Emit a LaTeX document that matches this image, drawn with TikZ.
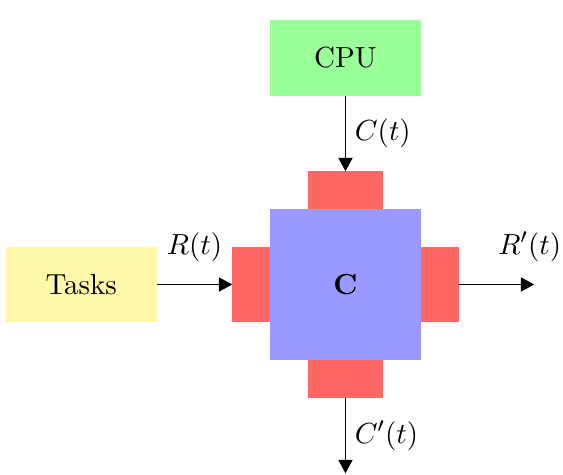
\documentclass[tikz,border=0pt]{standalone}
\usetikzlibrary{arrows.meta,calc}
\definecolor{cpugreen}{RGB}{153,255,153}
\definecolor{portred}{RGB}{255,102,102}
\definecolor{coreblue}{RGB}{153,153,255}
\definecolor{taskyellow}{RGB}{255,247,170}
\begin{document}
\begin{tikzpicture}[
  font=\fontsize{10.95}{13.6}\selectfont,
  block/.style={minimum width=2cm, minimum height=1cm, inner sep=0pt, outer sep=0pt},
  hport/.style={fill=portred, minimum width=1cm, minimum height=0.5cm, inner sep=0pt, outer sep=0pt},
  vport/.style={fill=portred, minimum width=0.5cm, minimum height=1cm, inner sep=0pt, outer sep=0pt},
  flow/.style={-{Triangle[length=5pt,width=5.3pt]}, line width=0.4pt}
]
\useasboundingbox (-4.576,-2.523) rectangle (2.881,3.768);

% central component with its four ports
\node[fill=coreblue, minimum width=2cm, minimum height=2cm, inner sep=0pt, outer sep=0pt] (c) at (0,0) {\textbf{C}};
\node[hport, anchor=south] (pt) at (c.north) {};
\node[hport, anchor=north] (pb) at (c.south) {};
\node[vport, anchor=east] (pl) at (c.west) {};
\node[vport, anchor=west] (pr) at (c.east) {};

% sources
\node[block, fill=cpugreen] (cpu) at (0,3) {CPU};
\node[block, fill=taskyellow] (tasks) at (-3.5,0) {Tasks};

% free ends of the outgoing flows
\coordinate (rout) at (2.5,0);
\coordinate (cout) at (0,-2.5);

% flows
\draw[flow] (cpu) -- node[midway, right] {$C(t)$} (pt);
\draw[flow] (tasks) -- node[midway, yshift=0.5cm] {$R(t)$} (pl);
\draw[flow] (pr) -- (rout) node[xshift=-0.06cm, yshift=0.5cm] {$R'(t)$};
\draw[flow] (pb) -- node[midway, right] {$C'(t)$} (cout);
\end{tikzpicture}
\end{document}
